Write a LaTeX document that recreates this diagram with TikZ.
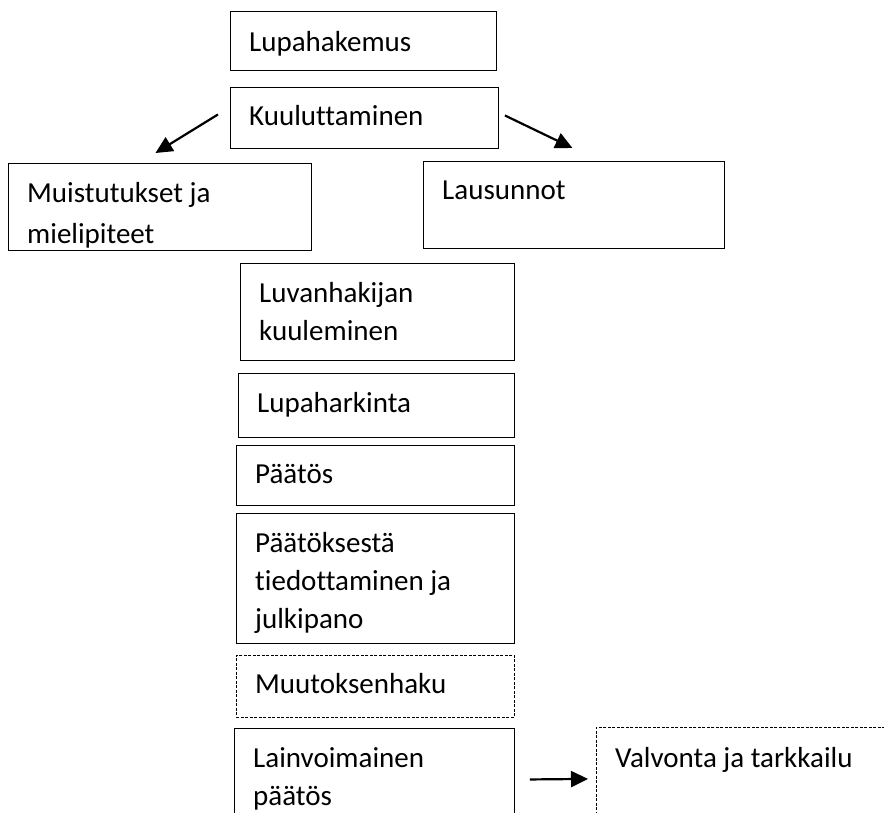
\documentclass[tikz,border=0pt]{standalone}
\usepackage{fontspec}
\setmainfont{Carlito}[Ligatures={NoCommon}]
\usetikzlibrary{calc,arrows.meta}
\newcommand{\mlines}[1]{\parbox[t]{320pt}{\raggedright #1}}
\begin{document}
\begin{tikzpicture}[x=1pt,y=-1pt,
  box/.style={draw, line width=0.9pt, rectangle, inner sep=0pt, anchor=north west},
  dbox/.style={box, line width=0.8pt, dash pattern=on 3pt off 1.5pt},
  txt/.style={inner sep=0pt, anchor=base west, font=\fontsize{29}{38}\selectfont},
  arr/.style={line width=2.2pt, -{Triangle[length=17pt,width=16pt]}}]
\useasboundingbox (0,0) rectangle (884,812);
% boxes
\node[box, minimum width=266pt, minimum height=59pt] (lupa) at (230,11) {};
\node[box, minimum width=268pt, minimum height=61pt] (kuul) at (230,87) {};
\node[box, minimum width=303pt, minimum height=87pt] (muis) at (8,163) {};
\node[box, minimum width=301pt, minimum height=87pt] (laus) at (423,161) {};
\node[box, minimum width=274pt, minimum height=97pt] (luvan) at (240,263) {};
\node[box, minimum width=276pt, minimum height=64pt] (hark) at (238,373) {};
\node[box, minimum width=278pt, minimum height=60pt] (paat) at (236,445) {};
\node[box, minimum width=278pt, minimum height=130pt] (tied) at (236,513) {};
\node[dbox, minimum width=278pt, minimum height=62pt] (muut) at (236,655) {};
\node[box, minimum width=280pt, minimum height=110pt] (lainv) at (234,728) {};
\node[dbox, minimum width=310pt, minimum height=110pt] (valv) at (596,727) {};
% texts
\node[txt] (tlupa) at (249,51) {Lupahakemus};
\node[txt] (tkuul) at (249,125) {Kuuluttaminen};
\begin{scope}
\clip (muis.north west) rectangle (muis.south east);
\node[txt, font=\fontsize{29}{41}\selectfont] (tmuis) at (27,202) {\mlines{Muistutukset ja\\mielipiteet}};
\end{scope}
\node[txt] (tlaus) at (442,199) {Lausunnot};
\node[txt] (tluvan) at (259,302) {\mlines{Luvanhakijan\\kuuleminen}};
\node[txt] (thark) at (257,412) {Lupaharkinta};
\node[txt] (tpaat) at (255,483) {Päätös};
\node[txt] (ttied) at (255,552) {\mlines{Päätöksestä\\tiedottaminen ja\\julkipano}};
\node[txt] (tmuut) at (255,693) {Muutoksenhaku};
\node[txt] (tlainv) at (253,767) {\mlines{Lainvoimainen\\päätös}};
\node[txt] (tvalv) at (615,767) {Valvonta ja tarkkailu};
% connectors
\draw[arr] ($(kuul.west)+(-12,-3.5)$) -- ($(muis.north)+(-4.5,-10)$);
\draw[arr] ($(kuul.east)+(6,-2.5)$) -- ($(laus.north)+(-1.5,-13)$);
\draw[arr] ($(lainv.east)+(15,-4)$) -- ($(valv.west)+(-8,-3.5)$);
\end{tikzpicture}
\end{document}
